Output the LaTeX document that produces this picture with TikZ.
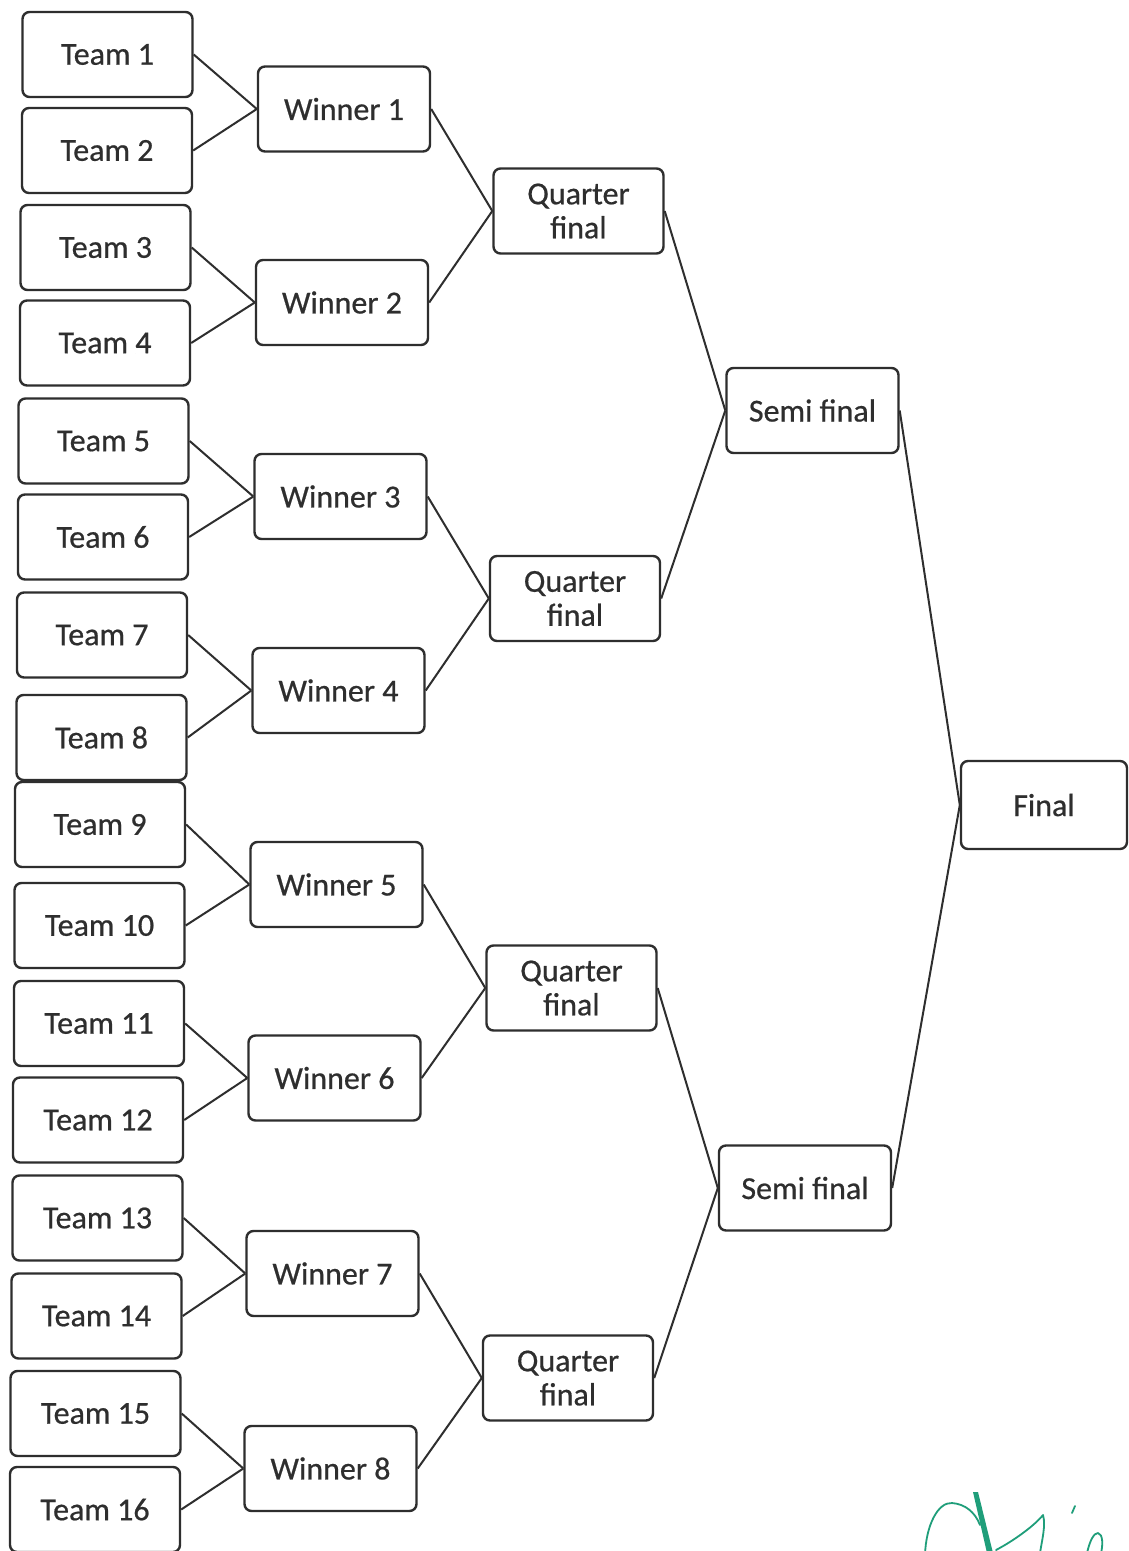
\documentclass[tikz,border=0pt]{standalone}
\usepackage{fontspec}
\setmainfont{Carlito}[FakeBold=0.6]
\definecolor{ink}{HTML}{2E2E2E}
\definecolor{sigc}{HTML}{1F9E7A}
\begin{document}
\begin{tikzpicture}[x=1pt,y=-1pt,
  box/.style={draw=ink, line width=2.4pt, rounded corners=7pt, minimum width=170pt,
    minimum height=85pt, inner sep=0pt, align=center, text=ink,
    font=\fontsize{32}{34}\selectfont},
  link/.style={draw=ink, line width=2pt},
  sig/.style={draw=sigc, line width=1.8pt, line cap=round, line join=round}]
\useasboundingbox (0,0) rectangle (1128,1551);
\clip (0,0) rectangle (1128,1551);
\fill[white] (0,0) rectangle (1128,1551);
% teams
\foreach \i/\x/\y in {1/107.5/54.5, 2/107/150.5, 3/105.5/247.5, 4/105/343,
  5/103.5/441, 6/103/537, 7/102/635, 8/101.5/737.5, 9/100/824.5, 10/99.5/925.5,
  11/99/1023.5, 12/98/1120, 13/97.5/1218, 14/96.5/1316, 15/95.5/1413.5, 16/95/1509.5}
  \node[box] (t\i) at (\x,\y) {Team \i};
% winners
\foreach \i/\x/\y in {1/344/109, 2/342/302.5, 3/340.5/496.5, 4/338.5/690.5,
  5/336.5/884.5, 6/334.5/1078, 7/332.5/1273.5, 8/330.5/1468.5}
  \node[box, minimum width=172pt] (w\i) at (\x,\y) {Winner \i};
% quarter finals
\foreach \i/\x/\y in {1/578.5/211, 2/575/598.5, 3/571.5/988, 4/568/1378}
  \node[box] (q\i) at (\x,\y) {Quarter\\final};
% semi finals
\node[box, minimum width=172pt] (s1) at (812.5,410.5) {Semi final};
\node[box, minimum width=172pt] (s2) at (805,1188) {Semi final};
% final
\node[box, minimum width=166pt, minimum height=88pt] (f) at (1044,805) {Final};
% connectors
\foreach \i in {1,...,8}{
  \pgfmathtruncatemacro\a{2*\i-1}
  \pgfmathtruncatemacro\b{2*\i}
  \draw[link] (t\a.east) -- (w\i.west);
  \draw[link] (t\b.east) -- (w\i.west);
}
\foreach \i in {1,...,4}{
  \pgfmathtruncatemacro\a{2*\i-1}
  \pgfmathtruncatemacro\b{2*\i}
  \draw[link] (w\a.east) -- (q\i.west);
  \draw[link] (w\b.east) -- (q\i.west);
}
\draw[link] (q1.east) -- (s1.west);
\draw[link] (q2.east) -- (s1.west);
\draw[link] (q3.east) -- (s2.west);
\draw[link] (q4.east) -- (s2.west);
\draw[link] (s1.east) -- (f.west);
\draw[link] (s2.east) -- (f.west);
% signature
\draw[sig] (925,1555) .. controls (926,1525) and (938,1502) .. (952,1503)
  .. controls (965,1504) and (975,1512) .. (980,1525);
\fill[sigc] (973,1492) -- (978,1492) -- (993,1553) -- (987,1553) -- cycle;
\draw[sig] (996,1550) .. controls (1015,1540) and (1035,1525) .. (1043,1515)
  .. controls (1046,1525) and (1042,1540) .. (1040,1553);
\draw[sig] (1075,1506) -- (1072,1513);
\draw[sig] (1087,1553) .. controls (1090,1540) and (1094,1533) .. (1098,1533)
  .. controls (1103,1534) and (1103,1545) .. (1101,1553);
\end{tikzpicture}
\end{document}
